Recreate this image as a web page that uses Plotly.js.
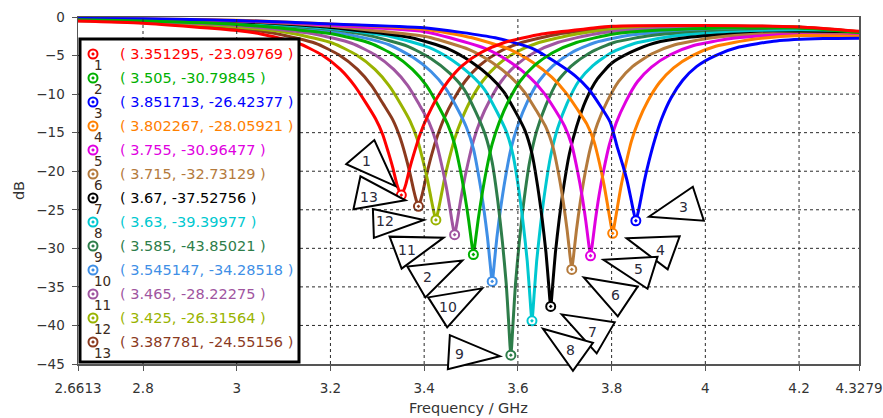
<!DOCTYPE html>
<html>
<head>
<meta charset="utf-8">
<script src="https://cdn.plot.ly/plotly-3.0.1.min.js"></script>
<style>html,body{margin:0;padding:0;background:#fff;}#chart{width:883px;height:418px;}</style>
</head>
<body>
<div id="chart"></div>
<script>
// ---------------- DATA ----------------
const seriesLabels = ['1','2','3','4','5','6','7','8','9','10','11','12','13'];
const dipFreq = [3.351295, 3.505, 3.851713, 3.802267, 3.755, 3.715, 3.67, 3.63, 3.585, 3.545147, 3.465, 3.425, 3.387781];
const dipDb   = [-23.09769, -30.79845, -26.42377, -28.05921, -30.96477, -32.73129, -37.52756, -39.39977, -43.85021, -34.28518, -28.22275, -26.31564, -24.55156];
const seriesColors = ['#ff0000','#00b000','#0000ff','#ff8000','#e000e0','#b47a3c','#000000','#00c8d0','#2e7d4a','#3f8fe6','#a055a0','#99b300','#8b3a1e'];

// frequency offsets (GHz) from each dip, and the dB values read at them
const offsetGHz = [-0.3,-0.22,-0.17,-0.13,-0.1,-0.075,-0.055,-0.04,-0.028,-0.018,-0.01,-0.005,0,0.005,0.01,0.018,0.028,0.04,0.055,0.075,0.1,0.13,0.17,0.22,0.3,0.4];
const curve1  = [-2.2,-3.4,-4.9,-6.8,-8.9,-11.2,-13.2,-15.2,-17.5,-19.6,-21.6,-22.5,-23.09769,-22.5,-21.6,-19.6,-17.5,-15.2,-13.0,-10.6,-8.3,-6.3,-4.6,-3.3,-2.2,-1.5];
const curve2  = [-2.2,-3.4,-4.9,-6.8,-8.9,-11.5,-13.9,-16.5,-19.8,-23.2,-26.4,-28.7,-30.79845,-28.7,-26.4,-23.2,-19.8,-16.5,-13.7,-10.9,-8.3,-6.3,-4.6,-3.3,-2.2,-1.7];
const curve3  = [-2.7,-4.1,-5.9,-7.6,-9.4,-11.6,-13.6,-16.8,-19.2,-21.4,-23.7,-25.2,-26.42377,-25.3,-23.8,-21.3,-18.7,-16.0,-13.2,-10.5,-8.2,-6.4,-5.0,-3.9,-3.1,-2.8];
const curve4  = [-2.7,-4.2,-5.9,-7.8,-9.8,-12.0,-13.9,-16.1,-19.0,-21.9,-24.7,-26.5,-28.05921,-26.5,-24.7,-21.9,-19.1,-16.1,-13.5,-10.9,-8.5,-6.6,-5.0,-3.8,-2.9,-2.4];
const curve5  = [-2.7,-4.2,-5.9,-7.8,-9.8,-12.1,-14.2,-16.6,-19.9,-23.2,-26.5,-28.9,-30.96477,-28.9,-26.5,-23.2,-19.9,-16.6,-13.7,-11.0,-8.4,-6.5,-4.9,-3.7,-2.8,-2.3];
const curve6  = [-2.7,-4.2,-5.9,-7.8,-9.8,-12.2,-14.3,-16.9,-20.4,-24.05,-27.6,-30.3,-32.73129,-30.3,-27.6,-24.05,-20.4,-16.9,-13.8,-11.0,-8.35,-6.4,-4.8,-3.6,-2.7,-2.2];
const curve7  = [-2.65,-4.1,-5.8,-7.7,-9.7,-12.3,-14.7,-17.7,-21.9,-26.3,-30.6,-34.2,-37.52756,-34.2,-30.6,-26.3,-21.9,-17.7,-14.25,-10.8,-8.0,-6.0,-4.6,-3.4,-2.6,-2.2];
const curve8  = [-2.55,-3.95,-5.6,-7.5,-9.5,-12.25,-14.8,-18.0,-22.45,-27.15,-31.7,-35.7,-39.39977,-35.7,-31.7,-27.15,-22.45,-18.0,-14.4,-11.2,-8.3,-6.3,-4.6,-3.4,-2.5,-2.05];
const curve9  = [-2.45,-3.8,-5.4,-7.3,-9.35,-12.3,-15.2,-18.8,-23.8,-29.2,-34.5,-39.3,-43.85021,-39.3,-34.5,-29.2,-23.8,-18.8,-14.8,-11.4,-8.3,-6.3,-4.6,-3.3,-2.4,-1.95];
const curve10 = [-2.35,-3.6,-5.2,-7.1,-9.2,-11.8,-14.3,-17.1,-20.9,-24.8,-28.6,-31.6,-34.28518,-31.6,-28.6,-24.8,-20.9,-17.1,-14.0,-11.0,-8.3,-6.3,-4.6,-3.3,-2.3,-1.8];
const curve11 = [-2.2,-3.4,-4.9,-6.8,-8.9,-11.4,-13.6,-16.1,-19.1,-22.0,-24.8,-26.7,-28.22275,-26.7,-24.8,-22.0,-19.1,-16.1,-13.4,-10.8,-8.3,-6.3,-4.6,-3.3,-2.2,-1.6];
const curve12 = [-2.2,-3.4,-4.9,-6.8,-8.9,-11.3,-13.5,-15.8,-18.5,-21.1,-23.6,-25.1,-26.31564,-25.1,-23.6,-21.1,-18.5,-15.8,-13.3,-10.7,-8.3,-6.3,-4.6,-3.3,-2.2,-1.5];
const curve13 = [-2.2,-3.4,-4.9,-6.8,-8.9,-11.3,-13.3,-15.5,-17.9,-20.3,-22.5,-23.7,-24.55156,-23.7,-22.5,-20.3,-17.9,-15.5,-13.1,-10.7,-8.3,-6.3,-4.6,-3.3,-2.2,-1.5];

// values read far from each dip, at fixed frequencies (null = covered by the dip readings)
const tailFreq = [2.6613, 2.8, 3.0, 3.2, 3.4, 3.6, 3.8, 4.0, 4.2, 4.3279];
const tail1  = [-0.53,-0.82,-1.75,null,null,null,-1.2,-1.1,-1.3,-1.85];
const tail2  = [-0.37,-0.52,-0.96,null,null,null,null,-1.48,-1.43,-2.0];
const tail3  = [-0.19,-0.24,-0.45,-0.9,-1.4,null,null,null,null,-2.75];
const tail4  = [-0.21,-0.26,-0.41,-0.9,-1.6,null,null,null,null,-2.5];
const tail5  = [-0.22,-0.29,-0.48,-1.07,-1.9,null,null,null,-2.3,-2.4];
const tail6  = [-0.24,-0.32,-0.52,-1.2,-2.5,null,null,null,-2.2,-2.3];
const tail7  = [-0.26,-0.35,-0.58,-1.35,null,null,null,null,-2.05,-2.15];
const tail8  = [-0.28,-0.38,-0.66,-1.5,null,null,null,null,-1.8,-2.1];
const tail9  = [-0.31,-0.43,-0.75,-1.6,null,null,null,null,-1.65,-2.05];
const tail10 = [-0.34,-0.47,-0.84,-1.9,null,null,null,-1.65,-1.5,-2.0];
const tail11 = [-0.41,-0.58,-1.1,null,null,null,null,-1.37,-1.38,-1.95];
const tail12 = [-0.45,-0.65,-1.3,null,null,null,null,-1.26,-1.33,-1.93];
const tail13 = [-0.49,-0.73,-1.52,null,null,null,-1.35,-1.17,-1.3,-1.9];

const xTickVals = [2.6613, 2.8, 3, 3.2, 3.4, 3.6, 3.8, 4, 4.2, 4.3279];
const xTickText = ['2.6613','2.8','3','3.2','3.4','3.6','3.8','4','4.2','4.3279'];
const xGridVals = [2.8, 3, 3.2, 3.4, 3.6, 3.8, 4, 4.2];
const yGridVals = [-5, -10, -15, -20, -25, -30, -35, -40];
const xRange = [2.6613, 4.3279];
const yRange = [-45, 0];

const dipCurves = [curve1,curve2,curve3,curve4,curve5,curve6,curve7,curve8,curve9,curve10,curve11,curve12,curve13];
const tails = [tail1,tail2,tail3,tail4,tail5,tail6,tail7,tail8,tail9,tail10,tail11,tail12,tail13];

// ---------------- LAYOUT HELPERS ----------------
const W = 883, H = 418;
const M = {l:78, r:24, t:17, b:54};
const PL = M.l, PR = W - M.r, PT = M.t, PB = H - M.b;
const px2x = px => (px - PL) / (PR - PL);
const py2y = py => (PB - py) / (PB - PT);
const fx = f => PL + (f - xRange[0]) / (xRange[1] - xRange[0]) * (PR - PL);
const fy = d => PT + (yRange[1] - d) / (yRange[1] - yRange[0]) * (PB - PT);
const FONT = 'DejaVu Sans, Verdana, sans-serif';

// callout triangles: pixel offsets of the three corners and of the label from each marker
const calloutCorners = [
  [[-55,-31],[-27,-55],[-6,-9]],
  [[-66,12],[-48,43],[-11,6]],
  [[13,-4],[57,-34],[68,0]],
  [[14,5],[67,3],[55,36]],
  [[13,4],[67,1],[57,33]],
  [[12,8],[66,17],[46,47]],
  [[11,8],[64,16],[46,47]],
  [[11,8],[61,22],[41,50]],
  [[-61,-20],[-63,14],[-11,1]],
  [[-64,16],[-45,46],[-10,7]],
  [[-65,2],[-53,34],[-11,3]],
  [[-63,-11],[-62,18],[-12,0]],
  [[-58,-30],[-65,3],[-13,-6]]
];
const calloutLabelPos = [[-35,-34],[-46,23],[48,-14],[48,17],[48,13],[44,26],[42,26],[39,29],[-51,-1],[-44,26],[-48,15],[-51,1],[-49,-9]];

// ---------------- TRACES ----------------
const traces = [];
for (let i = seriesLabels.length - 1; i >= 0; i--) {
  const pts = [];
  offsetGHz.forEach((o, k) => pts.push([dipFreq[i] + o, dipCurves[i][k]]));
  tailFreq.forEach((f, k) => { if (tails[i][k] !== null) pts.push([f, tails[i][k]]); });
  pts.sort((a, b) => a[0] - b[0]);
  traces.push({
    type: 'scatter', mode: 'lines', name: seriesLabels[i],
    x: pts.map(p => p[0]), y: pts.map(p => p[1]),
    line: {color: seriesColors[i], width: 3, shape: 'spline', smoothing: 0.6},
    hoverinfo: 'skip', showlegend: false
  });
}
for (let i = 0; i < seriesLabels.length; i++) {
  traces.push({
    type: 'scatter', mode: 'markers', name: seriesLabels[i], x: [dipFreq[i]], y: [dipDb[i]],
    marker: {symbol: 'circle-dot', size: 9, color: '#ffffff', line: {color: seriesColors[i], width: 2}},
    hoverinfo: 'skip', showlegend: false
  });
}

// ---------------- SHAPES & ANNOTATIONS ----------------
const shapes = [];
const annotations = [];

// dashed grid lines
xGridVals.forEach(v => shapes.push({type:'line', xref:'x', yref:'y', layer:'above',
  x0: v, x1: v, y0: yRange[0], y1: yRange[1], line:{color:'#2a2a2a', width:1, dash:'dot'}}));
yGridVals.forEach(v => shapes.push({type:'line', xref:'x', yref:'y', layer:'above',
  x0: xRange[0], x1: xRange[1], y0: v, y1: v, line:{color:'#2a2a2a', width:1, dash:'dot'}}));

// legend box
const LB = {x0: 80, x1: 299, y0: 39, y1: 362, first: 54, step: 24, mx: 93, tx: 118};
shapes.push({type:'rect', xref:'paper', yref:'paper', layer:'above',
  x0: px2x(LB.x0), x1: px2x(LB.x1), y0: py2y(LB.y1), y1: py2y(LB.y0),
  fillcolor:'#ffffff', line:{color:'#000000', width:3}});
seriesLabels.forEach((lab, i) => {
  const cy = LB.first + i * LB.step;
  shapes.push({type:'circle', xref:'paper', yref:'paper', layer:'above',
    x0: px2x(LB.mx - 4.5), x1: px2x(LB.mx + 4.5), y0: py2y(cy + 4.5), y1: py2y(cy - 4.5),
    fillcolor:'#ffffff', line:{color: seriesColors[i], width:2}});
  shapes.push({type:'circle', xref:'paper', yref:'paper', layer:'above',
    x0: px2x(LB.mx - 1.3), x1: px2x(LB.mx + 1.3), y0: py2y(cy + 1.3), y1: py2y(cy - 1.3),
    fillcolor: seriesColors[i], line:{color: seriesColors[i], width:0.5}});
  annotations.push({xref:'paper', yref:'paper', x: px2x(LB.tx), y: py2y(cy), xanchor:'left', yanchor:'middle',
    showarrow:false, text: '( ' + dipFreq[i] + ', ' + dipDb[i] + ' )',
    font:{family: FONT, size: 14.5, color: seriesColors[i]}});
  annotations.push({xref:'paper', yref:'paper', x: px2x(LB.mx - 1), y: py2y(cy + 11), xanchor:'left', yanchor:'middle',
    showarrow:false, text: lab, font:{family: FONT, size: 13.5, color:'#3a2a20'}});
});

// callout triangles
seriesLabels.forEach((lab, i) => {
  const mx = fx(dipFreq[i]), my = fy(dipDb[i]);
  const c = calloutCorners[i];
  const path = 'M ' + c.map(p => px2x(mx + p[0]) + ',' + py2y(my + p[1])).join(' L ') + ' Z';
  shapes.push({type:'path', xref:'paper', yref:'paper', layer:'above', path: path,
    fillcolor:'#ffffff', line:{color:'#000000', width:2}});
  annotations.push({xref:'paper', yref:'paper', x: px2x(mx + calloutLabelPos[i][0]), y: py2y(my + calloutLabelPos[i][1]),
    xanchor:'center', yanchor:'middle', showarrow:false, text: lab,
    font:{family: FONT, size: 14, color:'#2a2a3a'}});
});

const axisCommon = {
  showgrid: false,
  showline: true, linecolor: '#555555', linewidth: 1.5, mirror: true,
  ticks: 'outside', ticklen: 5, tickcolor: '#555555',
  zeroline: false,
  tickfont: {family: FONT, size: 13.5, color: '#333333'}
};

const layout = {
  width: W, height: H, margin: M,
  showlegend: false,
  font: {family: FONT, size: 13.5, color: '#333333'},
  xaxis: Object.assign({}, axisCommon, {
    range: xRange, tickmode: 'array', tickvals: xTickVals, ticktext: xTickText,
    ticklabelstandoff: 6,
    title: {text: 'Frequency / GHz', font: {family: FONT, size: 14.5, color: '#333333'}, standoff: 8}
  }),
  yaxis: Object.assign({}, axisCommon, {
    range: yRange, tickmode: 'linear', tick0: 0, dtick: 5,
    ticklabelstandoff: 4,
    title: {text: 'dB', font: {family: FONT, size: 14.5, color: '#333333'}, standoff: 8}
  }),
  shapes: shapes,
  annotations: annotations
};

Plotly.newPlot('chart', traces, layout, {staticPlot: true, displayModeBar: false});
</script>
</body>
</html>
